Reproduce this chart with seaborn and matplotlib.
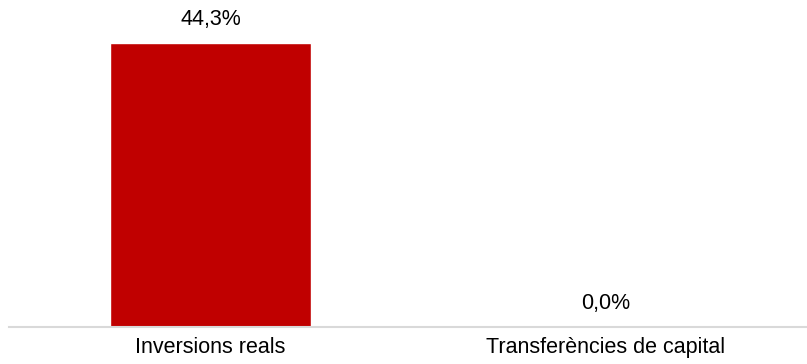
import matplotlib
matplotlib.use("Agg")
import matplotlib.pyplot as plt
import seaborn as sns
import pandas as pd

categories = ["Inversions reals", "Transferències de capital"]
values = [44.3, 0.0]
value_labels = ["44,3%", "0,0%"]

sns.set_style("white")
plt.rcParams['font.family'] = ['Liberation Sans', 'DejaVu Sans']

df = pd.DataFrame({"cat": categories, "val": values})

fig = plt.figure(figsize=(8.07, 3.64), dpi=100)
ax = fig.add_axes([9 / 807, 37 / 364, 798 / 807, 327 / 364])
sns.barplot(data=df, x="cat", y="val", color="#C00000", width=0.51,
            saturation=1, ax=ax)
ax.set_xlim(-0.51, 1.51)
ax.set_ylim(0, 44.3 * 327 / 284)

ax.bar_label(ax.containers[0], labels=value_labels, padding=9,
             fontsize=15.5, color="#000000")

for s in ["top", "right", "left"]:
    ax.spines[s].set_visible(False)
ax.spines["bottom"].set_color("#D9D9D9")
ax.spines["bottom"].set_linewidth(1.5)
ax.set_yticks([])
ax.set_xlabel("")
ax.set_ylabel("")
ax.tick_params(axis="x", length=0, pad=7.5, labelsize=15.5, colors="#000000")

fig.savefig("out.png", dpi=100)
